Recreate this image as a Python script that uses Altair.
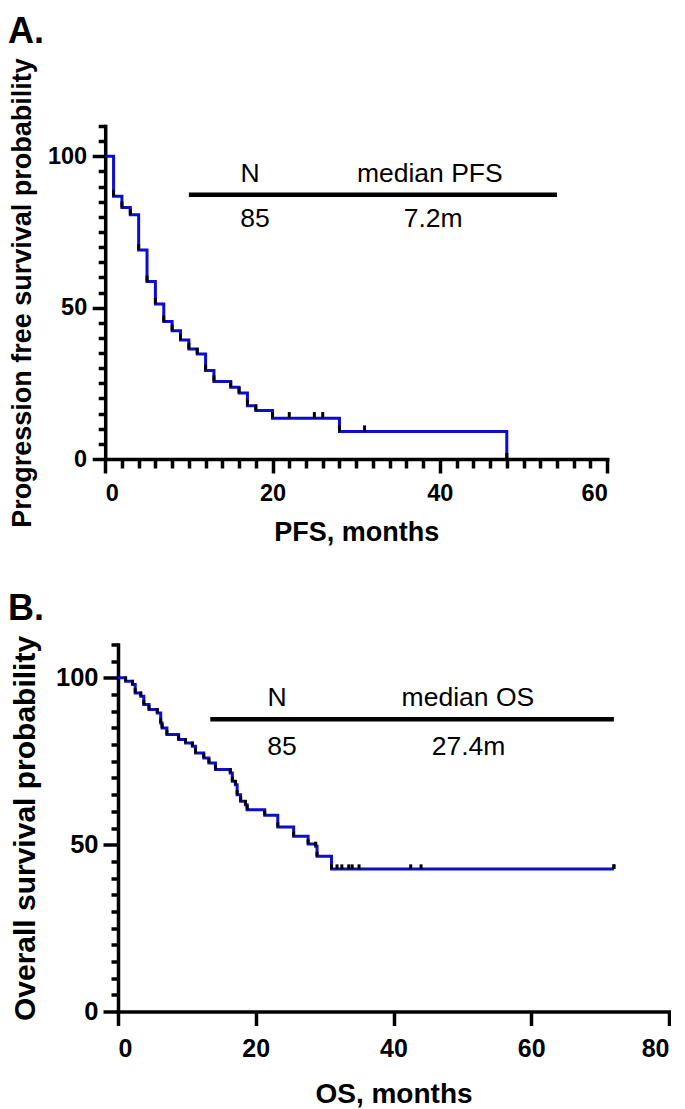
import altair as alt
import pandas as pd

# ---------------- data ----------------
# Panel A: progression-free survival (Kaplan-Meier steps)
pfs_time = [0, 1, 2, 3, 4, 5, 6, 7, 8, 9, 10, 11, 12, 13, 15, 16, 17, 18, 20, 28, 48]
pfs_surv = [100, 86.8, 83.1, 80.7, 69.0, 58.6, 51.2, 45.4, 42.4, 39.3, 36.3, 34.7,
            29.2, 25.6, 23.7, 21.8, 17.6, 16.0, 13.5, 9.1, 0]
pfs_censor = [22, 25, 26, 31]

# Panel B: overall survival (Kaplan-Meier steps)
os_time = [0, 1.1, 2.1, 2.5, 3.3, 3.75, 4.5, 5.7, 6.2, 6.4, 7.1, 8.8, 9.8, 10.8, 11.25,
           12.45, 13.2, 14.15, 16.3, 16.6, 17.05, 17.3, 17.8, 18.5, 18.75, 21.3, 23.2,
           25.5, 27.6, 28.7, 28.9, 31.0, 72]
os_surv = [100, 99.0, 98.0, 95.5, 94.5, 92.0, 90.5, 89.5, 86.5, 85.0, 83.0, 81.5, 80.5,
           79.5, 77.5, 76.0, 74.5, 72.5, 71.5, 69.0, 68.0, 65.0, 63.0, 62.0, 60.5, 58.8,
           55.3, 52.5, 50.2, 49.5, 46.5, 42.7, 42.7]
os_censor = [31.8, 32.5, 33.5, 34.0, 35.0, 42.5, 44.0, 72]

# annotation table texts
ann_a_text = ["N", "median PFS", "85", "7.2m"]
ann_b_text = ["N", "median OS", "85", "27.4m"]

# ---------------- layout constants ----------------
FONT = "Liberation Sans"
BLUE = "#0d0dcc"
ann_a_x = [17.3, 38.8, 17.9, 39.2]
ann_a_y = [91.4, 91.4, 76.5, 76.5]
ann_b_x = [23.1, 50.8, 23.8, 50.9]
ann_b_y = [91.5, 91.5, 77.0, 77.0]


def level_at(times, survs, t):
    lv = survs[0]
    for ti, si in zip(times, survs):
        if ti <= t:
            lv = si
    return lv


def km_panel(times, survs, censor, xmax, x_values, xmajor, xtitle, ytitle,
             width, height, x_range, y_offset, tick_h,
             ann_text, ann_x, ann_y, line_x, line_y,
             label, label_x, label_y,
             xlab_fs, xlab_pad, xtick_major, xtick_minor, xtitle_fs, xtitle_pad,
             ylab_fs, ylab_pad, ytick_major, ytick_minor, ytitle_fs, ytitle_pad):
    curve = pd.DataFrame({"t": times, "s": survs})
    tick_t = list(times[1:]) + list(censor)
    tick_s = [survs[i] for i in range(1, len(times))] + [level_at(times, survs, c) for c in censor]
    ticks = pd.DataFrame({"t": tick_t, "s": tick_s, "s2": [v + tick_h for v in tick_s]})

    xmaj = "datum.value % " + str(xmajor) + " === 0"
    x_axis = alt.Axis(
        values=x_values, tickCount=200, format="d",
        labelExpr=xmaj + " ? datum.label : ''",
        tickSize={"condition": {"test": xmaj, "value": xtick_major}, "value": xtick_minor},
        labelOverlap=False, labelFontSize=xlab_fs, labelPadding=xlab_pad,
        title=xtitle, titleFontSize=xtitle_fs, titlePadding=xtitle_pad,
    )
    ymaj = "datum.value % 50 === 0"
    y_axis = alt.Axis(
        values=list(range(0, 111, 5)), tickCount=200, format="d",
        labelExpr=ymaj + " ? datum.label : ''",
        tickSize={"condition": {"test": ymaj, "value": ytick_major}, "value": ytick_minor},
        labelOverlap=False, labelFontSize=ylab_fs, labelPadding=ylab_pad,
        title=ytitle, titleFontSize=ytitle_fs, titlePadding=ytitle_pad,
        offset=y_offset,
    )
    if x_range is None:
        xs = alt.Scale(domain=[0, xmax], nice=False)
    else:
        xs = alt.Scale(domain=[0, xmax], nice=False, range=x_range)
    ys = alt.Scale(domain=[0, 110], nice=False)

    line = alt.Chart(curve).mark_line(interpolate="step-after", color=BLUE,
                                      strokeWidth=3).encode(
        x=alt.X("t:Q", scale=xs, axis=x_axis),
        y=alt.Y("s:Q", scale=ys, axis=y_axis),
    )
    tk = alt.Chart(ticks).mark_rule(color="black", strokeWidth=3).encode(
        x="t:Q", y="s:Q", y2="s2:Q"
    )
    ann = pd.DataFrame({"txt": ann_text, "x": ann_x, "y": ann_y})
    txt = alt.Chart(ann).mark_text(font=FONT, fontSize=26.5, color="black",
                                   align="center", baseline="alphabetic").encode(
        x="x:Q", y="y:Q", text="txt:N"
    )
    rule_df = pd.DataFrame({"x": [line_x[0]], "x2": [line_x[1]], "y": [line_y]})
    rule = alt.Chart(rule_df).mark_rule(color="black", strokeWidth=4.5).encode(
        x="x:Q", x2="x2:Q", y="y:Q"
    )
    lab = alt.Chart(pd.DataFrame({"l": [label]})).mark_text(
        font=FONT, fontSize=36, fontWeight="bold", color="black",
        align="left", baseline="alphabetic").encode(
        text="l:N", x=alt.value(label_x), y=alt.value(label_y)
    )
    return alt.layer(line, tk, rule, txt, lab).properties(width=width, height=height)


panel_a = km_panel(
    pfs_time, pfs_surv, pfs_censor, 60, list(range(0, 61, 2)), 20,
    "PFS, months", "Progression free survival probability",
    502, 333, [-12.8, 489.2], 12.8, 2.0,
    ann_a_text, ann_a_x, ann_a_y, (10, 54), 87.3,
    "A.", -110, -83.5,
    23.5, 8.5, 14, 9, 27, 14,
    23.5, 5.5, 13, 7, 27, 11,
)
panel_b = km_panel(
    os_time, os_surv, os_censor, 80, list(range(0, 81, 20)), 20,
    "OS, months", "Overall survival probability",
    551, 367, None, 0, 1.4,
    ann_b_text, ann_b_x, ann_b_y, (13.4, 72), 87.6,
    "B.", -110, -25,
    25, 10.8, 14, 14, 28, 18.7,
    25.5, 5, 15, 7, 30, 15,
)

chart = alt.concat(panel_a, panel_b, columns=1, spacing=45.5).properties(
    padding={"left": 0, "top": 5, "right": 0, "bottom": 0}
).configure_view(stroke=None).configure_axis(
    grid=False, domainColor="black", tickColor="black", labelColor="black",
    titleColor="black", domainWidth=3.5, tickWidth=3.5, domainCap="square",
    labelFont=FONT, titleFont=FONT, labelFontWeight="bold", titleFontWeight="bold",
)

chart.save("out.html", embed_options={"renderer": "svg", "actions": False})
